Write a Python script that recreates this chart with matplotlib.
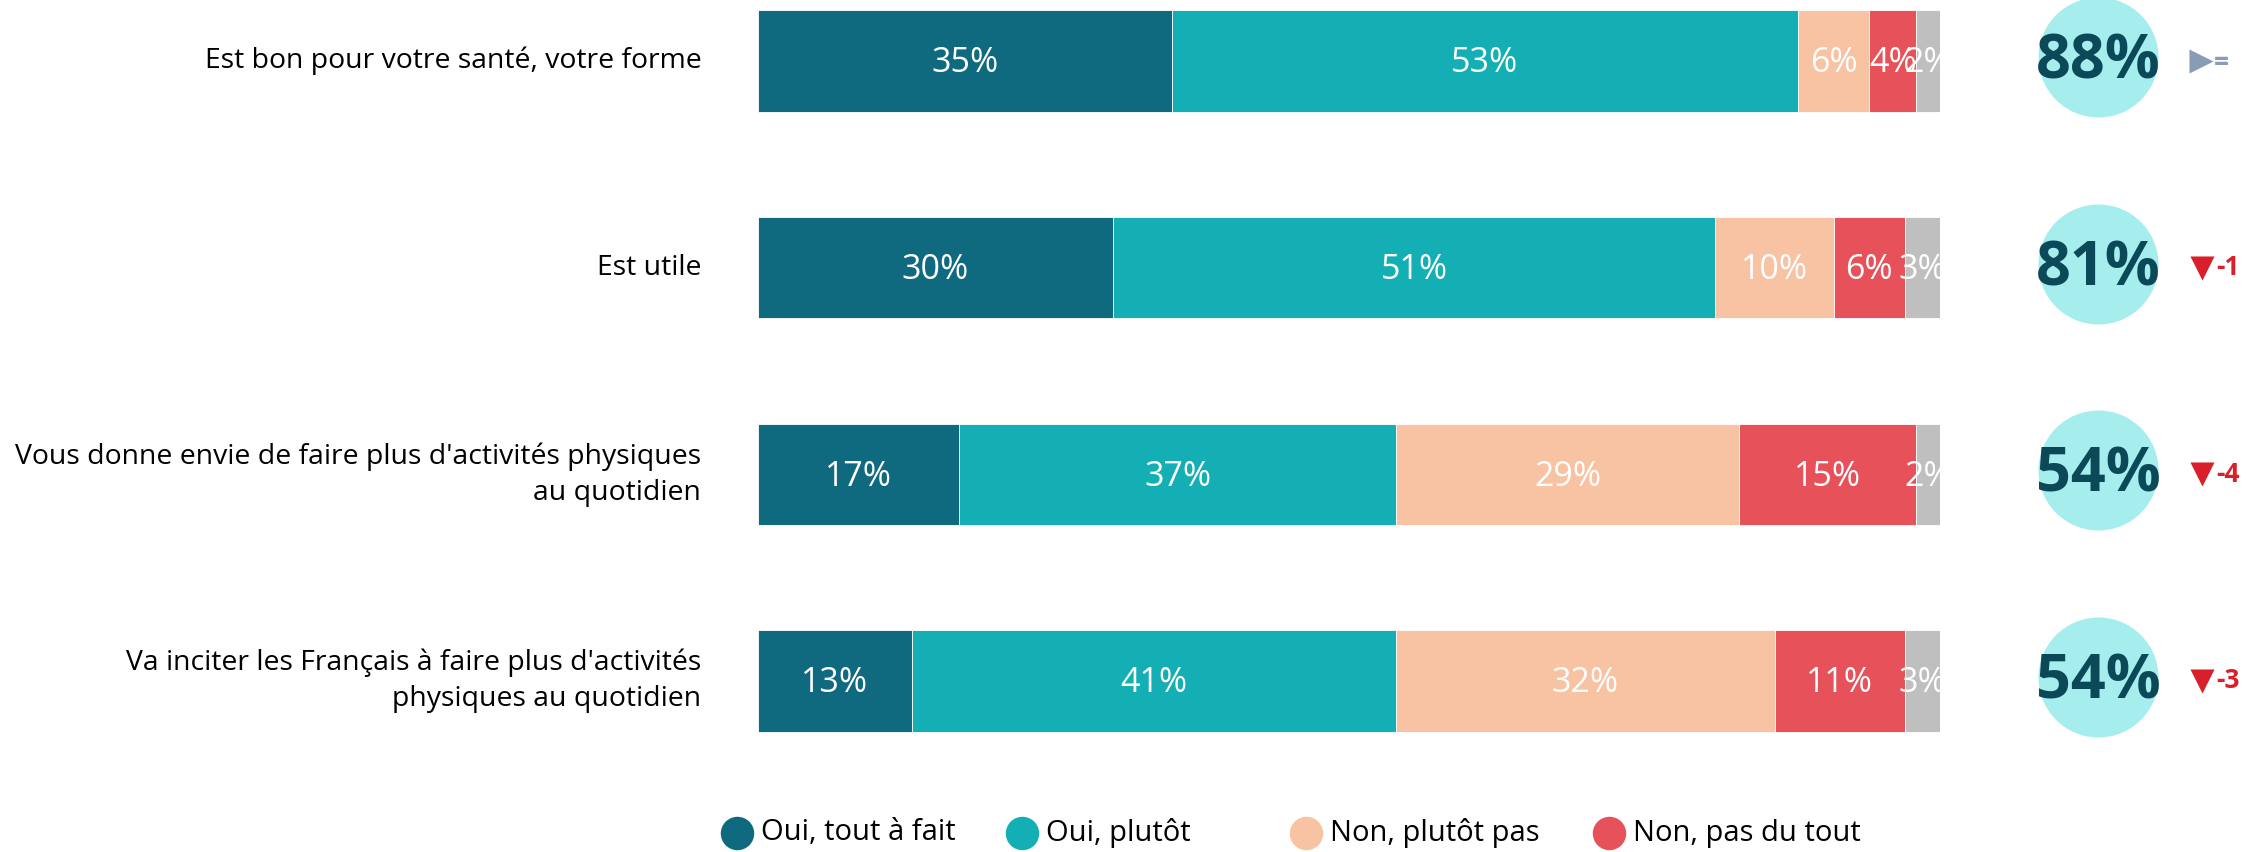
import numpy as np
import matplotlib
matplotlib.use('Agg')
import matplotlib.pyplot as plt

plt.rcParams['font.family'] = ['Open Sans', 'DejaVu Sans']

# données
questions = [
    "Est bon pour votre santé, votre forme",
    "Est utile",
    "Vous donne envie de faire plus d'activités physiques\nau quotidien",
    "Va inciter les Français à faire plus d'activités\nphysiques au quotidien",
]
tout_a_fait = [35, 30, 17, 13]
plutot = [53, 51, 37, 41]
plutot_pas = [6, 10, 29, 32]
pas_du_tout = [4, 6, 15, 11]
nsp = [2, 3, 2, 3]
total_oui = [88, 81, 54, 54]
evolution = ["=", "-1", "-4", "-3"]

series = [tout_a_fait, plutot, plutot_pas, pas_du_tout, nsp]
legend_labels = ["Oui, tout à fait", "Oui, plutôt", "Non, plutôt pas", "Non, pas du tout"]
colors = ['#0f6a80', '#14aeb5', '#f7c3a2', '#e6515a', '#bfbfbf']

W, H = 2267, 852
fig = plt.figure(figsize=(W / 100, H / 100), dpi=100)

# axe principal des barres
ax = fig.add_axes([758 / W, 47 / H, 1182 / W, 806 / H])
ax.set_xlim(0, 100)
ax.set_ylim(3.6, -0.3)
ax.axis('off')

y = np.arange(len(questions))
left = np.zeros(len(questions))
for vals, col in zip(series, colors):
    vals = np.array(vals, dtype=float)
    ax.barh(y, vals, left=left, height=0.49, color=col, edgecolor='white', linewidth=0.6)
    for yi, l, v in zip(y, left, vals):
        ax.text(l + v / 2, yi + 0.012, f"{int(v)}%", ha='center', va='center',
                color='white', fontsize=24.5, clip_on=True)
    left += vals

for yi, q in zip(y, questions):
    ax.text(-4.8, yi, q, ha='right', va='center', fontsize=20.4,
            color='black', linespacing=1.38, clip_on=False)

# cercles total oui
ax.scatter([113.4] * len(y), y - 0.02, s=7465, color='#a6eded', zorder=2, clip_on=False,
           linewidths=0)
for yi, t in zip(y, total_oui):
    ax.text(113.4, yi + 0.01, f"{t}%", ha='center', va='center', fontsize=44,
            fontweight='bold', color='#0b4858', zorder=3, clip_on=False)

# évolutions
for yi, e in zip(y, evolution):
    if e == "=":
        ax.scatter([122.1], [yi], marker='>', s=300, color='#8a9bb6', clip_on=False, linewidths=0)
        ax.text(123.2, yi + 0.01, e, ha='left', va='center', fontsize=19,
                fontweight='bold', color='#8a9bb6', clip_on=False)
    else:
        ax.scatter([122.2], [yi], marker='v', s=300, color='#d9202a', clip_on=False, linewidths=0)
        ax.text(123.4, yi, e, ha='left', va='center', fontsize=19,
                fontweight='bold', color='#d9202a', clip_on=False)

# légende
lax = fig.add_axes([0, 0, 1, 1])
lax.set_xlim(0, W)
lax.set_ylim(H, 0)
lax.axis('off')
leg_x = [737, 1022, 1306, 1609]
for xm, lab, col in zip(leg_x, legend_labels, colors):
    lax.scatter([xm], [833], s=580, color=col, linewidths=0)
    lax.text(xm + 24, 833, lab, ha='left', va='center', fontsize=21, color='black')

fig.savefig('out.png', dpi=100)
